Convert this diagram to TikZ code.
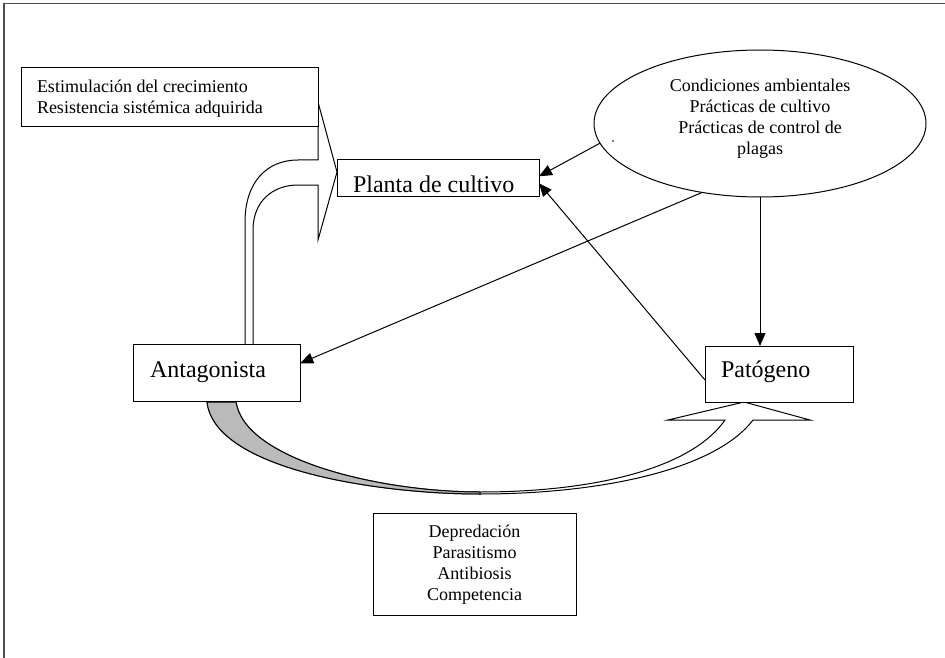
\documentclass[tikz,border=0pt]{standalone}
\usepackage{fontspec}
\setmainfont{Liberation Serif}
\usetikzlibrary{arrows.meta,shapes.geometric}
\begin{document}
\begin{tikzpicture}[x=1pt,y=-1pt,
  every node/.style={inner sep=0pt, outer sep=0pt},
  box/.style={draw=black, line width=1pt, fill=white, rectangle},
  small/.style={font=\fontsize{18}{21}\selectfont},
  big/.style={font=\fontsize{24}{28}\selectfont},
  conn/.style={draw=black, line width=1pt, -{Triangle[length=13pt,width=11pt]}},
  block/.style={draw=black, line width=1pt, fill=white, line join=miter},
  ribbon/.style={block, fill=black!27},
]
\useasboundingbox (0,0) rectangle (945,658);
% page frame
\draw[black!70, line width=1.5pt] (4,658) -- (4,3.5) -- (945,3.5);

% hollow bent arrow rising from the antagonist into the crop plant
\draw[block] (245,345) -- (245,222) .. controls (245,183) and (266,160) .. (298,160)
  -- (318,160) -- (318,102) -- (337,172) -- (318,240) -- (318,185) -- (298,185)
  .. controls (272,185) and (253,202) .. (253,230) -- (253,345);

% curved ribbon arrow from the antagonist to the pathogen
\draw[block] (207,402) .. controls (215,470) and (380,494) .. (480,494)
  .. controls (600,494) and (715,470) .. (753,420) -- (810,420) -- (744,402)
  -- (668,420) -- (725,420) .. controls (690,470) and (590,492) .. (480,492)
  .. controls (380,492) and (245,460) .. (236,402);
% shaded back side of the ribbon
\draw[ribbon] (207,402) .. controls (215,470) and (380,494) .. (480,494) -- (480,492)
  .. controls (380,492) and (245,460) .. (236,402) -- cycle;

% boxes
\node[box, minimum width=297pt, minimum height=59pt] (growth) at (169.5,97.5) {};
\node[small, anchor=west, align=left] (growthtxt) at (37,99)
  {Estimulación del crecimiento\\Resistencia sistémica adquirida};

\node[box, minimum width=202pt, minimum height=37pt] (planta) at (438,178.3) {};
\node[big, anchor=base west] (plantatxt) at (353,193) {Planta de cultivo};

\node[box, minimum width=167pt, minimum height=57pt] (antag) at (216.7,373.3) {};
\node[big, anchor=base west] (antagtxt) at (150,377) {Antagonista};

\node[box, minimum width=148pt, minimum height=56pt] (pato) at (779,374) {};
\node[big, anchor=base west] (patotxt) at (721,377) {Patógeno};

\node[draw=black, ellipse, line width=1pt, fill=white, minimum width=332pt,
  minimum height=147pt] (env) at (760,123.5) {};
\node[small, align=center] (envtxt) at (760,119)
  {Condiciones ambientales\\Prácticas de cultivo\\Prácticas de control de\\plagas};
\fill (613,141) circle (0.8);

\node[box, minimum width=203pt, minimum height=102pt] (modes) at (474.5,564) {};
\node[small, align=center] (modestxt) at (474.5,565)
  {Depredación\\Parasitismo\\Antibiosis\\Competencia};

% influences
\draw[conn] (env.187) -- ([yshift=2pt]planta.east);
\draw[conn] ([yshift=-6pt]pato.west) -- ([yshift=-5pt]planta.east);
\draw[conn] (env.230) -- ([yshift=10pt]antag.east);
\draw[conn] (env.south) -- (env.south |- pato.north);
\end{tikzpicture}
\end{document}
